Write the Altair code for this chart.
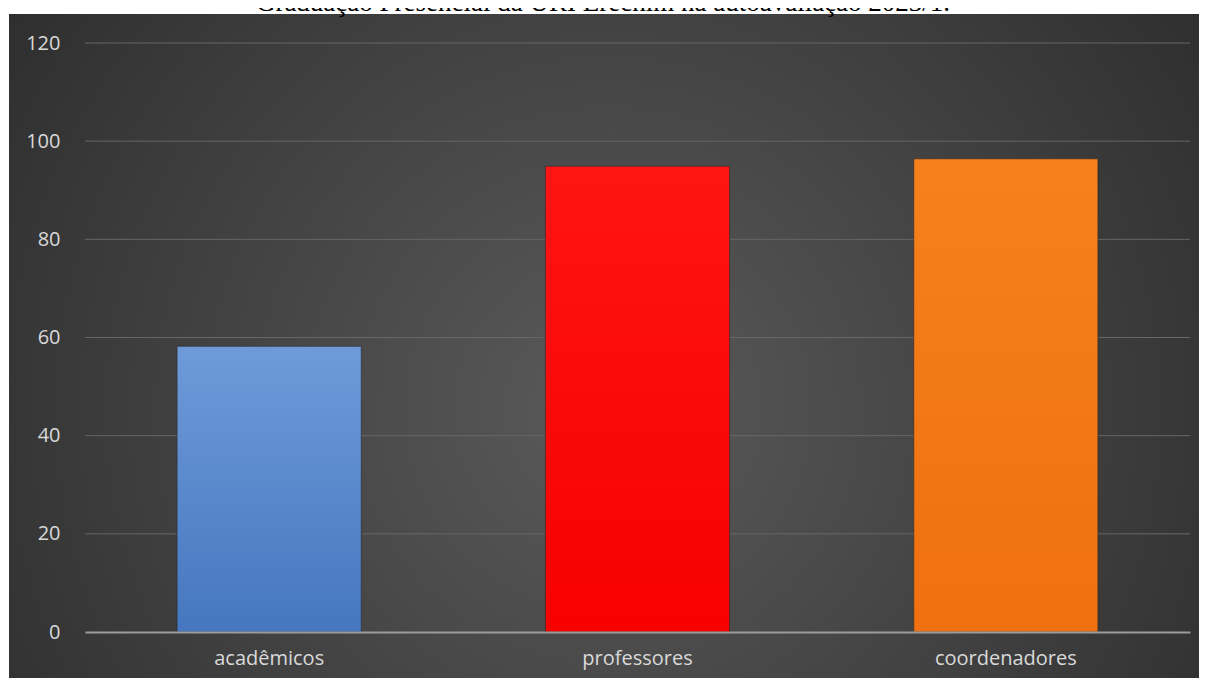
import altair as alt
import pandas as pd

categories = ["acadêmicos", "professores", "coordenadores"]
values = [58.2, 94.9, 96.4]
bar_colors_top = ["#6e9ad8", "#ff1414", "#f7801c"]
bar_colors_bottom = ["#4577c0", "#f70000", "#ef7010"]
tick_values = [0, 20, 40, 60, 80, 100, 120]
grid_values = [20, 40, 60, 80, 100, 120]
title_text = ["Graduação Presencial da URI Erechim na autoavaliação 2023/1."]

W, H = 1105, 589
FONT = "Open Sans"

df = pd.DataFrame({"cat": categories, "val": values})
grid_df = pd.DataFrame({"g": grid_values})
title_df = pd.DataFrame({"t": title_text})

bg = alt.Chart(pd.DataFrame({"d": [0]})).mark_rect(
    fill=alt.RadialGradient(
        gradient="radial",
        x1=0.5, y1=0.55, r1=0,
        x2=0.5, y2=0.55, r2=0.72,
        stops=[alt.GradientStop(offset=0, color="#5a5a5a"),
               alt.GradientStop(offset=1, color="#262626")],
    )
).encode(x=alt.value(-76), x2=alt.value(1122), y=alt.value(-29), y2=alt.value(643))

yscale = alt.Scale(domain=[0, 120], nice=False)
xscale = alt.Scale(domain=categories, paddingInner=0.5, paddingOuter=0.25)

yaxis = alt.Axis(title=None, values=tick_values, grid=False, ticks=False,
                 domain=False, labelColor="#d9d9d9", labelFont=FONT,
                 labelFontSize=20, labelPadding=25, zindex=1)

grid = alt.Chart(grid_df).mark_rule(color="#676767", strokeWidth=1).encode(
    y=alt.Y("g:Q", scale=yscale, axis=yaxis),
    x=alt.value(0), x2=alt.value(W),
)

layers = [bg, grid]
for c, v, top, bot in zip(categories, values, bar_colors_top, bar_colors_bottom):
    sub = df[df["cat"] == c]
    bar = alt.Chart(sub).mark_bar(
        stroke="#2a2a2a", strokeWidth=1, strokeOpacity=0.6,
        color=alt.LinearGradient(
            gradient="linear", x1=0, y1=0, x2=0, y2=1,
            stops=[alt.GradientStop(offset=0, color=top),
                   alt.GradientStop(offset=1, color=bot)],
        ),
    ).encode(
        x=alt.X("cat:N", scale=xscale, sort=categories,
                axis=alt.Axis(title=None, labelAngle=0, ticks=False, domain=True,
                              domainColor="#9c9c9c", domainWidth=2,
                              labelColor="#d9d9d9", labelFont=FONT, labelFontSize=20,
                              labelPadding=16, zindex=1)),
        y=alt.Y("val:Q", scale=yscale, axis=yaxis),
    )
    layers.append(bar)

title = alt.Chart(title_df).mark_text(
    font="Liberation Serif", fontSize=27, color="#000000", align="center",
    baseline="alphabetic",
).encode(text="t:N", x=alt.value(518), y=alt.value(-32))
layers.append(title)

chart = alt.layer(*layers).properties(
    width=W, height=H,
    autosize=alt.AutoSizeParams(type="none"),
    padding={"left": 77, "top": 35, "right": 9, "bottom": 46},
    background="#ffffff",
).configure_view(stroke=None)

chart.save("out.html", embed_options={"renderer": "svg", "actions": False})
